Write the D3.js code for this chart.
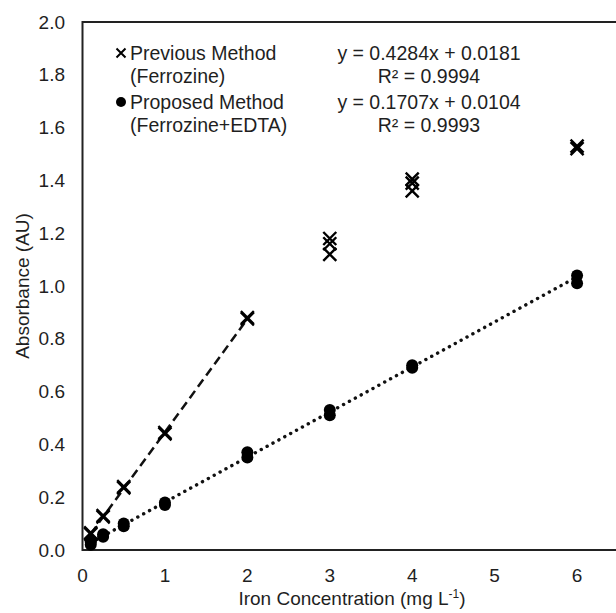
<!DOCTYPE html>
<html>
<head>
<meta charset="utf-8">
<script src="https://cdn.jsdelivr.net/npm/d3@7"></script>
<style>
  body { margin: 0; background: #fff; }
  text { font-family: "Liberation Sans", Arial, sans-serif; fill: #1f1f1f; }
</style>
</head>
<body>
<div id="chart"></div>
<script>
// chart size
var svgWidth = 616;
var svgHeight = 613;

// data
var prevX = [0.1, 0.1, 0.25, 0.25, 0.5, 0.5, 1, 1, 2, 2, 3, 3, 3, 4, 4, 4, 6, 6];
var prevY = [0.06, 0.065, 0.13, 0.125, 0.235, 0.24, 0.44, 0.445, 0.88, 0.875, 1.18, 1.16, 1.12, 1.405, 1.39, 1.36, 1.53, 1.52];
var propX = [0.1, 0.1, 0.1, 0.25, 0.25, 0.5, 0.5, 1, 1, 2, 2, 3, 3, 4, 4, 6, 6];
var propY = [0.02, 0.03, 0.035, 0.05, 0.06, 0.09, 0.1, 0.17, 0.18, 0.35, 0.37, 0.51, 0.53, 0.69, 0.7, 1.01, 1.04];

// trendlines (from the equations printed on the chart)
var prevFit = { slope: 0.4284, intercept: 0.0181, from: 0.1, to: 2 };
var propFit = { slope: 0.1707, intercept: 0.0104, from: 0.1, to: 6 };

var xTicks = [0, 1, 2, 3, 4, 5, 6];
var yTicks = [0, 0.2, 0.4, 0.6, 0.8, 1.0, 1.2, 1.4, 1.6, 1.8, 2.0];

var legendRows = [
  { marker: "x", lines: ["Previous Method", "(Ferrozine)"], eq: "y = 0.4284x + 0.0181", r2: "0.9994" },
  { marker: "o", lines: ["Proposed Method", "(Ferrozine+EDTA)"], eq: "y = 0.1707x + 0.0104", r2: "0.9993" }
];

var svg = d3.select("#chart")
  .append("svg")
  .attr("width", svgWidth)
  .attr("height", svgHeight);

// scales (plot runs to x = 7, which falls off the right edge)
var x = d3.scaleLinear().domain([0, 7]).range([82.5, 659.5]);
var y = d3.scaleLinear().domain([0, 2]).range([550, 22]);

// plot frame
svg.append("rect")
  .attr("x", x(0))
  .attr("y", y(2))
  .attr("width", x(7) - x(0))
  .attr("height", y(0) - y(2))
  .attr("fill", "none")
  .attr("stroke", "#222")
  .attr("stroke-width", 2);

// y tick labels
svg.append("g")
  .selectAll("text")
  .data(yTicks)
  .enter()
  .append("text")
  .attr("x", 65)
  .attr("y", d => y(d))
  .attr("dy", "0.35em")
  .attr("text-anchor", "end")
  .attr("font-size", "19px")
  .text(d => d.toFixed(1));

// x tick labels
svg.append("g")
  .selectAll("text")
  .data(xTicks)
  .enter()
  .append("text")
  .attr("x", d => x(d))
  .attr("y", 582)
  .attr("text-anchor", "middle")
  .attr("font-size", "19px")
  .text(d => d);

// axis titles
var xTitle = svg.append("text")
  .attr("x", 352)
  .attr("y", 605)
  .attr("text-anchor", "middle")
  .attr("font-size", "19px")
  .text("Iron Concentration (mg L");
xTitle.append("tspan").attr("baseline-shift", "super").attr("font-size", "12px").text("-1");
xTitle.append("tspan").text(")");

svg.append("text")
  .attr("transform", "rotate(-90)")
  .attr("x", -286)
  .attr("y", 29)
  .attr("text-anchor", "middle")
  .attr("font-size", "19px")
  .text("Absorbance (AU)");

// trendlines
function fitLine(fit, dash, width, cap) {
  svg.append("line")
    .attr("x1", x(fit.from))
    .attr("y1", y(fit.slope * fit.from + fit.intercept))
    .attr("x2", x(fit.to))
    .attr("y2", y(fit.slope * fit.to + fit.intercept))
    .attr("stroke", "#111")
    .attr("stroke-width", width)
    .attr("stroke-dasharray", dash)
    .attr("stroke-linecap", cap);
}
fitLine(prevFit, "9,5", 2.5, "butt");
fitLine(propFit, "0.1,6.6", 3.4, "round");

// cross marker path
function cross(cx, cy, s) {
  return "M" + (cx - s) + "," + (cy - s) + "L" + (cx + s) + "," + (cy + s) +
    "M" + (cx - s) + "," + (cy + s) + "L" + (cx + s) + "," + (cy - s);
}

// circles (proposed)
svg.append("g")
  .selectAll("circle")
  .data(propX)
  .enter()
  .append("circle")
  .attr("cx", d => x(d))
  .attr("cy", (d, i) => y(propY[i]))
  .attr("r", 6)
  .attr("fill", "#000");

// crosses (previous)
svg.append("g")
  .selectAll("path")
  .data(prevX)
  .enter()
  .append("path")
  .attr("d", (d, i) => cross(x(d), y(prevY[i]), 6.5))
  .attr("stroke", "#000")
  .attr("stroke-width", 2.4)
  .attr("fill", "none");

// legend + equations
var rowY = [60, 109];
legendRows.forEach(function(row, i) {
  var base = rowY[i];
  if (row.marker === "x") {
    svg.append("path")
      .attr("d", cross(121, base - 7, 4.5))
      .attr("stroke", "#000")
      .attr("stroke-width", 2)
      .attr("fill", "none");
  } else {
    svg.append("circle")
      .attr("cx", 121)
      .attr("cy", base - 7)
      .attr("r", 5)
      .attr("fill", "#000");
  }
  row.lines.forEach(function(t, j) {
    svg.append("text")
      .attr("x", 130)
      .attr("y", base + j * 23)
      .attr("font-size", "19.5px")
      .text(t);
  });
  svg.append("text")
    .attr("x", 429)
    .attr("y", base)
    .attr("text-anchor", "middle")
    .attr("font-size", "19.5px")
    .text(row.eq);
  svg.append("text")
    .attr("x", 429)
    .attr("y", base + 23)
    .attr("text-anchor", "middle")
    .attr("font-size", "19.5px")
    .text("R² = " + row.r2);
});
</script>
</body>
</html>
